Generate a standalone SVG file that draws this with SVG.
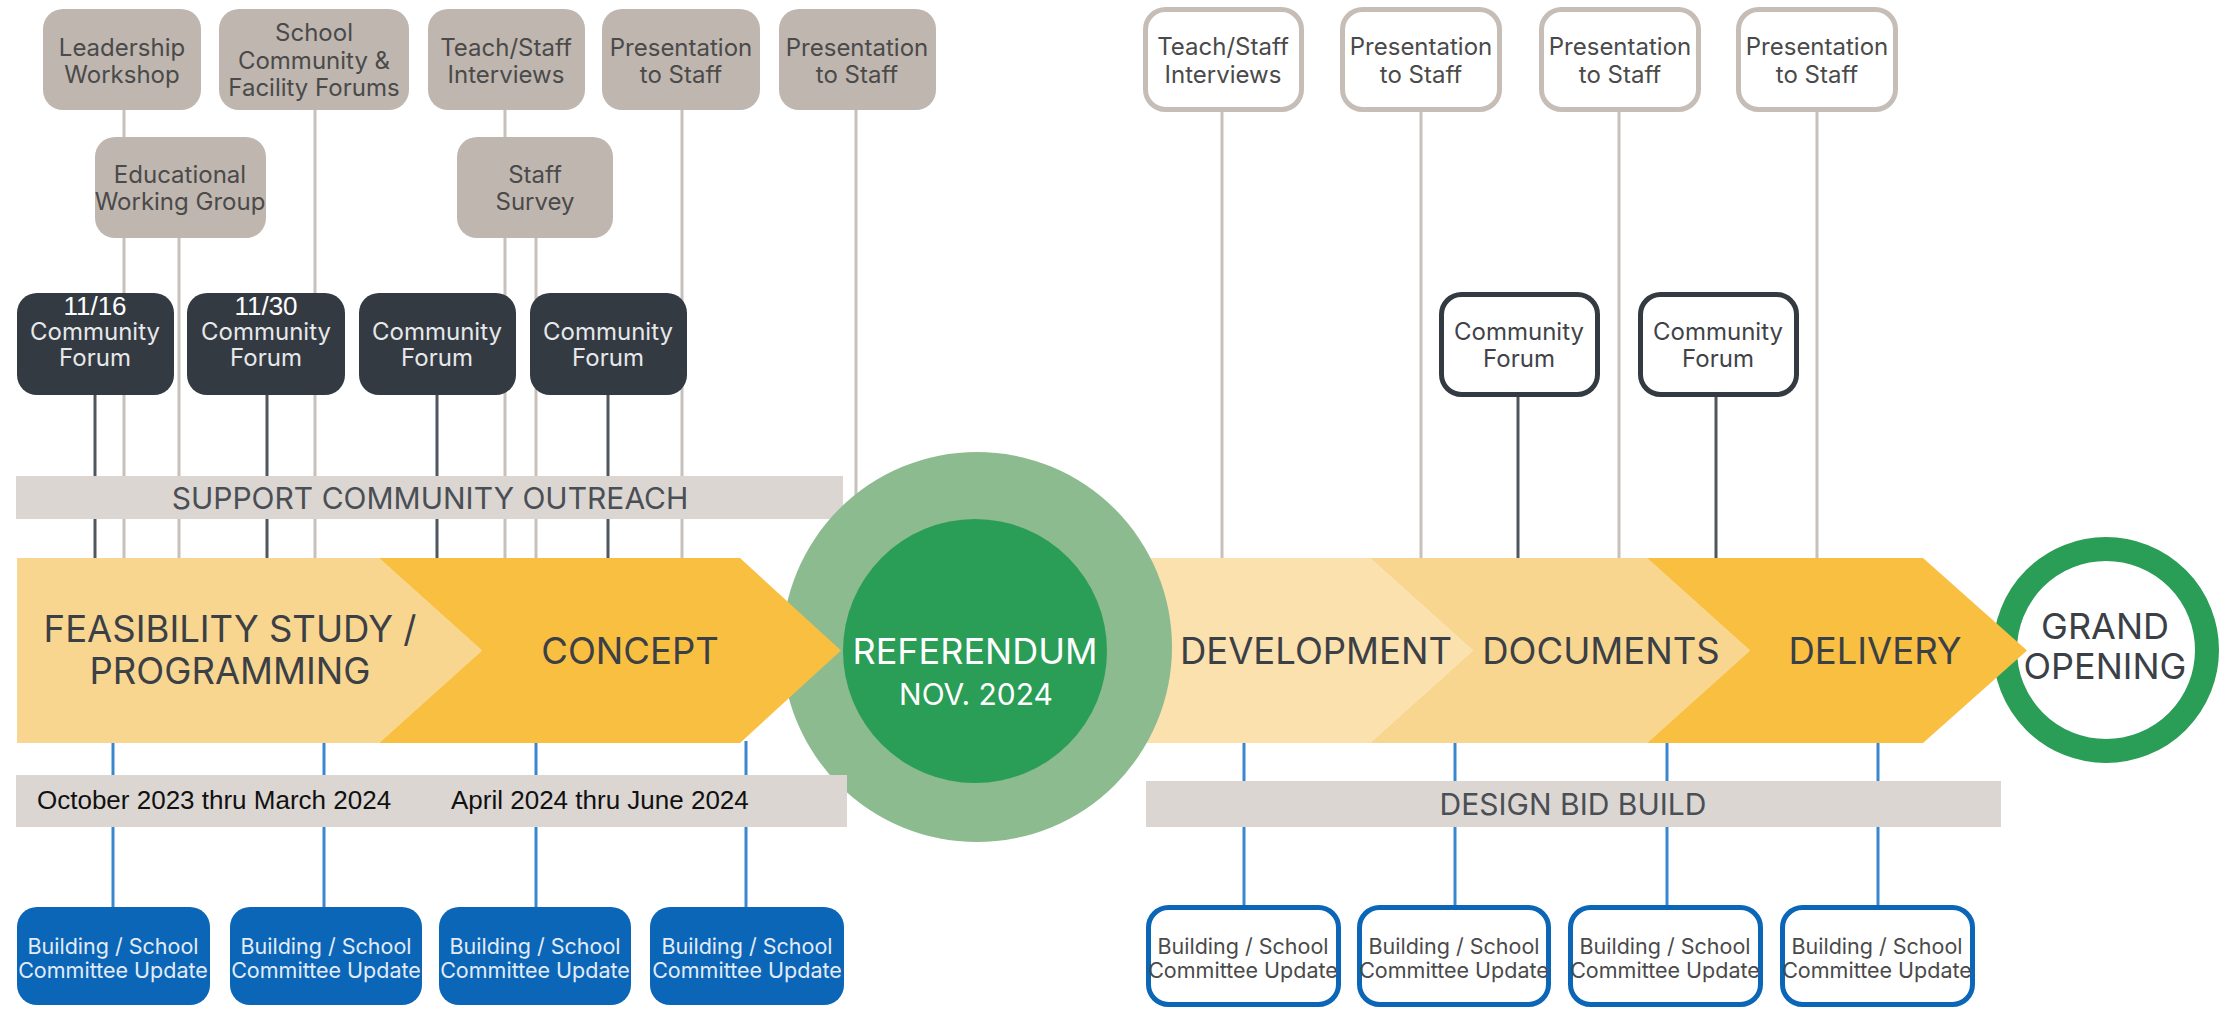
<svg xmlns="http://www.w3.org/2000/svg" width="2234" height="1010" viewBox="0 0 2234 1010">
<style>
.bg{fill:#FFFFFF}
.gbox{fill:#BFB6AF}
.gout{fill:#FFFFFF;stroke:#C6BDB6;stroke-width:5}
.dbox{fill:#343A42}
.dout{fill:#FFFFFF;stroke:#343A42;stroke-width:5}
.bbox{fill:#0B66B8}
.bout{fill:#FFFFFF;stroke:#0B66B8;stroke-width:5}
.band{fill:#DBD6D1}
.gl{stroke:#C8C0BA;stroke-width:3;fill:none}
.dl{stroke:#4E565E;stroke-width:3;fill:none}
.bl{stroke:#3A87CF;stroke-width:3;fill:none}
text{font-family:Inter,"Liberation Sans",sans-serif;text-anchor:middle}
.tg{font-size:24px;fill:#4A4A4A}
.tw{font-size:24px;fill:#E6E8EA}
.td{font-size:24px;fill:#3F4348}
.tb{font-size:21.5px;fill:#E3ECF6}
.tbo{font-size:21.5px;fill:#4A4A4A}
.date{font-family:"Liberation Sans",Arial,sans-serif;font-size:26px;fill:#FFFFFF}
.phase{font-size:36.5px;fill:#3B4046}
.bandt{font-size:30px;fill:#4A4F55}
.per{font-family:"Liberation Sans",Arial,sans-serif;font-size:26px;fill:#111111;text-anchor:start}
.ref{font-size:36px;fill:#FFFFFF}
.nov{font-size:30px;fill:#FFFFFF}
.go{font-size:36px;fill:#3B4046}
</style>
<rect class="bg" x="0" y="0" width="2234" height="1010"/>

<g id="connectors">
  <line class="gl" x1="124" y1="110" x2="124" y2="560"/>
  <line class="gl" x1="179" y1="238" x2="179" y2="560"/>
  <line class="gl" x1="315" y1="110" x2="315" y2="560"/>
  <line class="gl" x1="505" y1="110" x2="505" y2="560"/>
  <line class="gl" x1="536" y1="238" x2="536" y2="560"/>
  <line class="gl" x1="682" y1="110" x2="682" y2="560"/>
  <line class="gl" x1="856" y1="110" x2="856" y2="560"/>
  <line class="gl" x1="1222" y1="112" x2="1222" y2="560"/>
  <line class="gl" x1="1421" y1="112" x2="1421" y2="560"/>
  <line class="gl" x1="1619" y1="112" x2="1619" y2="560"/>
  <line class="gl" x1="1817" y1="112" x2="1817" y2="560"/>
  <line class="dl" x1="95" y1="395" x2="95" y2="560"/>
  <line class="dl" x1="267" y1="395" x2="267" y2="560"/>
  <line class="dl" x1="437" y1="395" x2="437" y2="560"/>
  <line class="dl" x1="608" y1="395" x2="608" y2="560"/>
  <line class="dl" x1="1518" y1="397" x2="1518" y2="560"/>
  <line class="dl" x1="1716" y1="397" x2="1716" y2="560"/>
  <line class="bl" x1="113" y1="741" x2="113" y2="907"/>
  <line class="bl" x1="324" y1="741" x2="324" y2="907"/>
  <line class="bl" x1="536" y1="741" x2="536" y2="907"/>
  <line class="bl" x1="746" y1="741" x2="746" y2="907"/>
  <line class="bl" x1="1244" y1="741" x2="1244" y2="905"/>
  <line class="bl" x1="1455" y1="741" x2="1455" y2="905"/>
  <line class="bl" x1="1667" y1="741" x2="1667" y2="905"/>
  <line class="bl" x1="1878" y1="741" x2="1878" y2="905"/>
</g>

<g id="support-band">
  <rect class="band" x="16" y="476" width="827" height="43"/>
  <text class="bandt" x="430" y="509">SUPPORT COMMUNITY OUTREACH</text>
</g>

<g id="phase-feasibility">
  <polygon fill="#F9D68F" points="17,558 379,558 482,650.5 379,743 17,743"/>
  <text class="phase" x="230" y="642">FEASIBILITY STUDY /</text>
  <text class="phase" x="230" y="684">PROGRAMMING</text>
</g>
<g id="phase-development">
  <polygon fill="#FBE1AE" points="1100,558 1370,558 1473,650.5 1370,743 1100,743"/>
  <text class="phase" x="1316" y="664">DEVELOPMENT</text>
</g>
<g id="referendum">
  <circle cx="977" cy="647" r="195" fill="#8BBB8F"/>
</g>
<g id="phase-concept">
  <polygon fill="#F8BF40" points="379,558 740,558 841,650.5 740,743 379,743 482,650.5"/>
  <text class="phase" x="630" y="664">CONCEPT</text>
</g>
<g id="referendum-core">
  <circle cx="975" cy="651" r="132" fill="#2A9D57"/>
  <text class="ref" x="975" y="664">REFERENDUM</text>
  <text class="nov" x="976" y="705">NOV. 2024</text>
</g>
<g id="phase-documents">
  <polygon fill="#F9D68F" points="1370,558 1647,558 1750,650.5 1647,743 1370,743 1473,650.5"/>
  <text class="phase" x="1601" y="664">DOCUMENTS</text>
</g>
<g id="grand-opening">
  <circle cx="2106" cy="650" r="101" fill="#FFFFFF" stroke="#2A9D57" stroke-width="24"/>
  <text class="go" x="2105" y="639">GRAND</text>
  <text class="go" x="2105" y="679">OPENING</text>
</g>
<g id="phase-delivery">
  <polygon fill="#F8BF40" points="1647,558 1923,558 2027,650.5 1923,743 1647,743 1750,650.5"/>
  <text class="phase" x="1875" y="664">DELIVERY</text>
</g>

<g id="period-band">
  <rect class="band" x="16" y="775" width="831" height="52"/>
  <text class="per" x="37" y="809">October 2023 thru March 2024</text>
  <text class="per" x="451" y="809">April 2024 thru June 2024</text>
</g>
<g id="design-bid-build">
  <rect class="band" x="1146" y="781" width="855" height="46"/>
  <text class="bandt" x="1573" y="815">DESIGN BID BUILD</text>
</g>

<g id="leadership-workshop">
  <rect class="gbox" x="43" y="9" width="158" height="101" rx="20"/>
  <text class="tg" x="122" y="56">Leadership</text>
  <text class="tg" x="122" y="83">Workshop</text>
</g>
<g id="school-community-forums">
  <rect class="gbox" x="219" y="9" width="190" height="101" rx="20"/>
  <text class="tg" x="314" y="41">School</text>
  <text class="tg" x="314" y="69">Community &amp;</text>
  <text class="tg" x="314" y="96">Facility Forums</text>
</g>
<g id="teach-staff-interviews-1">
  <rect class="gbox" x="428" y="9" width="157" height="101" rx="20"/>
  <text class="tg" x="506" y="56">Teach/Staff</text>
  <text class="tg" x="506" y="83">Interviews</text>
</g>
<g id="presentation-1">
  <rect class="gbox" x="602" y="9" width="158" height="101" rx="20"/>
  <text class="tg" x="681" y="56">Presentation</text>
  <text class="tg" x="681" y="83">to Staff</text>
</g>
<g id="presentation-2">
  <rect class="gbox" x="779" y="9" width="157" height="101" rx="20"/>
  <text class="tg" x="857" y="56">Presentation</text>
  <text class="tg" x="857" y="83">to Staff</text>
</g>
<g id="educational-working-group">
  <rect class="gbox" x="95" y="137" width="171" height="101" rx="20"/>
  <text class="tg" x="180" y="183">Educational</text>
  <text class="tg" x="180" y="210">Working Group</text>
</g>
<g id="staff-survey">
  <rect class="gbox" x="457" y="137" width="156" height="101" rx="20"/>
  <text class="tg" x="535" y="183">Staff</text>
  <text class="tg" x="535" y="210">Survey</text>
</g>

<g id="teach-staff-interviews-2">
  <rect class="gout" x="1145.5" y="9.5" width="156" height="100" rx="20"/>
  <text class="tg" x="1223" y="55">Teach/Staff</text>
  <text class="tg" x="1223" y="83">Interviews</text>
</g>
<g id="presentation-3">
  <rect class="gout" x="1342.5" y="9.5" width="157" height="100" rx="20"/>
  <text class="tg" x="1421" y="55">Presentation</text>
  <text class="tg" x="1421" y="83">to Staff</text>
</g>
<g id="presentation-4">
  <rect class="gout" x="1541.5" y="9.5" width="157" height="100" rx="20"/>
  <text class="tg" x="1620" y="55">Presentation</text>
  <text class="tg" x="1620" y="83">to Staff</text>
</g>
<g id="presentation-5">
  <rect class="gout" x="1738.5" y="9.5" width="157" height="100" rx="20"/>
  <text class="tg" x="1817" y="55">Presentation</text>
  <text class="tg" x="1817" y="83">to Staff</text>
</g>

<g id="community-forum-1">
  <rect class="dbox" x="17" y="293" width="157" height="102" rx="20"/>
  <text class="date" x="95" y="315">11/16</text>
  <text class="tw" x="95" y="340">Community</text>
  <text class="tw" x="95" y="366">Forum</text>
</g>
<g id="community-forum-2">
  <rect class="dbox" x="187" y="293" width="158" height="102" rx="20"/>
  <text class="date" x="266" y="315">11/30</text>
  <text class="tw" x="266" y="340">Community</text>
  <text class="tw" x="266" y="366">Forum</text>
</g>
<g id="community-forum-3">
  <rect class="dbox" x="359" y="293" width="157" height="102" rx="20"/>
  <text class="tw" x="437" y="340">Community</text>
  <text class="tw" x="437" y="366">Forum</text>
</g>
<g id="community-forum-4">
  <rect class="dbox" x="530" y="293" width="157" height="102" rx="20"/>
  <text class="tw" x="608" y="340">Community</text>
  <text class="tw" x="608" y="366">Forum</text>
</g>
<g id="community-forum-5">
  <rect class="dout" x="1441.5" y="294.5" width="156" height="100" rx="20"/>
  <text class="td" x="1519" y="340">Community</text>
  <text class="td" x="1519" y="367">Forum</text>
</g>
<g id="community-forum-6">
  <rect class="dout" x="1640.5" y="294.5" width="156" height="100" rx="20"/>
  <text class="td" x="1718" y="340">Community</text>
  <text class="td" x="1718" y="367">Forum</text>
</g>

<g id="committee-update-1">
  <rect class="bbox" x="17" y="907" width="193" height="98" rx="20"/>
  <text class="tb" x="113" y="954">Building / School</text>
  <text class="tb" x="113" y="978">Committee Update</text>
</g>
<g id="committee-update-2">
  <rect class="bbox" x="230" y="907" width="192" height="98" rx="20"/>
  <text class="tb" x="326" y="954">Building / School</text>
  <text class="tb" x="326" y="978">Committee Update</text>
</g>
<g id="committee-update-3">
  <rect class="bbox" x="439" y="907" width="192" height="98" rx="20"/>
  <text class="tb" x="535" y="954">Building / School</text>
  <text class="tb" x="535" y="978">Committee Update</text>
</g>
<g id="committee-update-4">
  <rect class="bbox" x="650" y="907" width="194" height="98" rx="20"/>
  <text class="tb" x="747" y="954">Building / School</text>
  <text class="tb" x="747" y="978">Committee Update</text>
</g>
<g id="committee-update-5">
  <rect class="bout" x="1148.5" y="907.5" width="190" height="97" rx="20"/>
  <text class="tbo" x="1243" y="954">Building / School</text>
  <text class="tbo" x="1243" y="978">Committee Update</text>
</g>
<g id="committee-update-6">
  <rect class="bout" x="1359.5" y="907.5" width="189" height="97" rx="20"/>
  <text class="tbo" x="1454" y="954">Building / School</text>
  <text class="tbo" x="1454" y="978">Committee Update</text>
</g>
<g id="committee-update-7">
  <rect class="bout" x="1570.5" y="907.5" width="190" height="97" rx="20"/>
  <text class="tbo" x="1665" y="954">Building / School</text>
  <text class="tbo" x="1665" y="978">Committee Update</text>
</g>
<g id="committee-update-8">
  <rect class="bout" x="1782.5" y="907.5" width="190" height="97" rx="20"/>
  <text class="tbo" x="1877" y="954">Building / School</text>
  <text class="tbo" x="1877" y="978">Committee Update</text>
</g>
</svg>
